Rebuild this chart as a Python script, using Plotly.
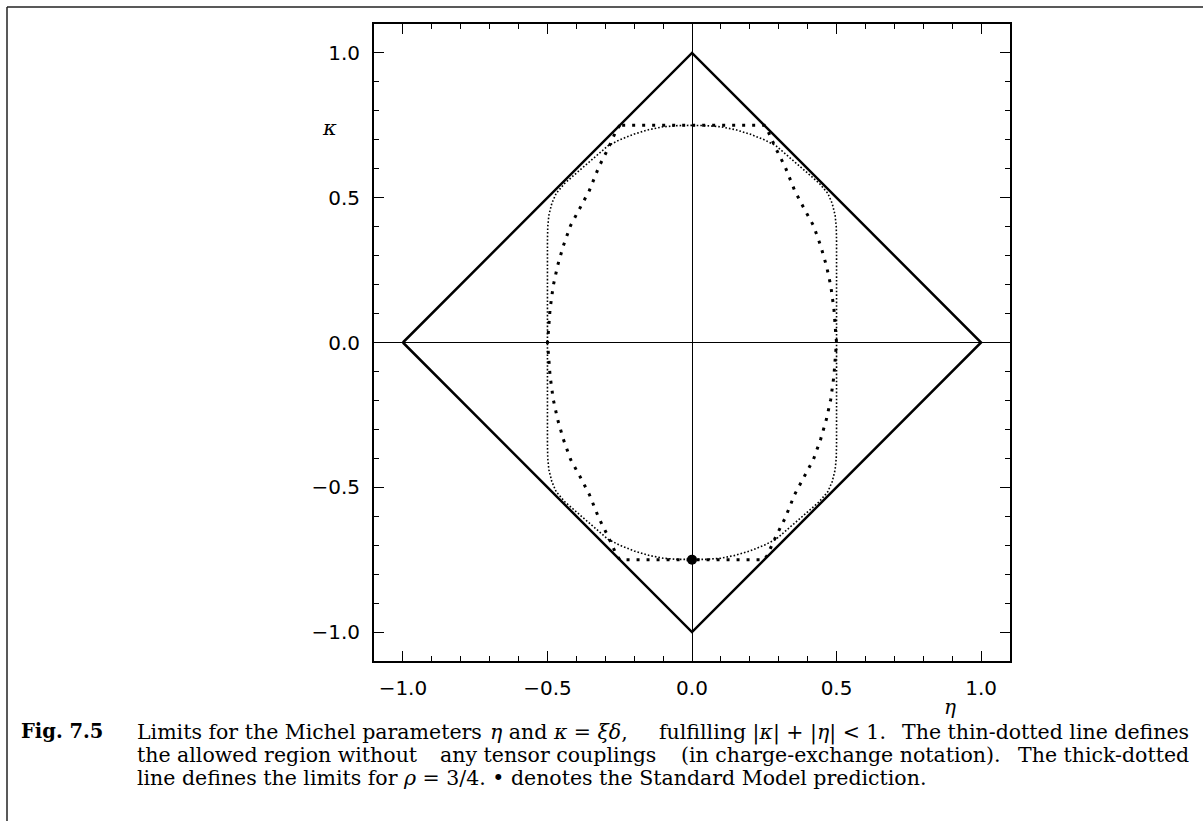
import plotly.graph_objects as go

# ---- data ----
diamond_eta = [-1.0, 0.0, 1.0, 0.0, -1.0]
diamond_kappa = [0.0, 1.0, 0.0, -1.0, 0.0]

# thin-dotted curve (no tensor couplings), traced around
thin_eta = [0.0, -0.05, -0.10, -0.15, -0.20, -0.25, -0.29, -0.32, -0.36, -0.40, -0.44, -0.47, -0.485, -0.495, -0.499, -0.50,
            -0.50, -0.499, -0.495, -0.485, -0.47, -0.44, -0.40, -0.36, -0.32, -0.29, -0.25, -0.20, -0.15, -0.10, -0.05, 0.0,
            0.05, 0.10, 0.15, 0.20, 0.25, 0.29, 0.32, 0.36, 0.40, 0.44, 0.47, 0.485, 0.495, 0.499, 0.50,
            0.50, 0.499, 0.495, 0.485, 0.47, 0.44, 0.40, 0.36, 0.32, 0.29, 0.25, 0.20, 0.15, 0.10, 0.05, 0.0]
thin_kappa = [0.75, 0.749, 0.745, 0.735, 0.72, 0.70, 0.68, 0.655, 0.62, 0.585, 0.55, 0.515, 0.48, 0.44, 0.40, 0.35,
              -0.35, -0.40, -0.44, -0.48, -0.515, -0.55, -0.585, -0.62, -0.655, -0.68, -0.70, -0.72, -0.735, -0.745, -0.749, -0.75,
              -0.749, -0.745, -0.735, -0.72, -0.70, -0.68, -0.655, -0.62, -0.585, -0.55, -0.515, -0.48, -0.44, -0.40, -0.35,
              0.35, 0.40, 0.44, 0.48, 0.515, 0.55, 0.585, 0.62, 0.655, 0.68, 0.70, 0.72, 0.735, 0.745, 0.749, 0.75]

# thick-dotted curve (rho = 3/4)
thick_eta = [-0.25, -0.261, -0.29, -0.322, -0.355, -0.388, -0.42, -0.445, -0.465, -0.48, -0.491, -0.497, -0.50,
             -0.497, -0.491, -0.48, -0.465, -0.445, -0.42, -0.388, -0.355, -0.322, -0.29, -0.261, -0.25,
             0.25, 0.261, 0.29, 0.322, 0.355, 0.388, 0.42, 0.445, 0.465, 0.48, 0.491, 0.497, 0.50,
             0.497, 0.491, 0.48, 0.465, 0.445, 0.42, 0.388, 0.355, 0.322, 0.29, 0.261, 0.25, -0.25]
thick_kappa = [0.75, 0.734, 0.67, 0.607, 0.525, 0.462, 0.404, 0.334, 0.265, 0.196, 0.115, 0.034, 0.0,
               -0.034, -0.115, -0.196, -0.265, -0.334, -0.404, -0.462, -0.525, -0.607, -0.67, -0.734, -0.75,
               -0.75, -0.734, -0.67, -0.607, -0.525, -0.462, -0.404, -0.334, -0.265, -0.196, -0.115, -0.034, 0.0,
               0.034, 0.115, 0.196, 0.265, 0.334, 0.404, 0.462, 0.525, 0.607, 0.67, 0.734, 0.75, 0.75]

sm_eta = [0.0]
sm_kappa = [-0.75]

tick_vals = [-1.0, -0.5, 0.0, 0.5, 1.0]
tick_text = ["\u22121.0", "\u22120.5", "0.0", "0.5", "1.0"]

# caption: justified lines split in chunks (text, left x in px; last chunk right-aligned)
caption_lines = [
    ["Limits for the Michel parameters",
     "<i>η</i> and <i>κ</i> = <i>ξδ</i>,",
     "fulfilling |<i>κ</i>| + |<i>η</i>| &lt; 1.",
     "The thin-dotted line defines"],
    ["the allowed region without",
     "any tensor couplings",
     "(in charge-exchange notation).",
     "The thick-dotted"],
    ["line defines the limits for <i>ρ</i> = 3/4. • denotes the Standard Model prediction."],
]
chunk_left = [
    [135, 488, 657],
    [135, 438, 679],
    [135],
]

# ---- layout geometry (pixels) ----
W, H = 1203, 821
L, R, T, B = 374, 1010, 24, 661


def px(x):
    return (x - L) / (R - L)


def py(y):
    return (B - y) / (B - T)


fig = go.Figure()
fig.add_trace(go.Scatter(x=thin_eta, y=thin_kappa, mode="lines",
                         line=dict(color="black", width=1.6, dash="1.6px,2px"), hoverinfo="skip"))
fig.add_trace(go.Scatter(x=thick_eta, y=thick_kappa, mode="lines",
                         line=dict(color="black", width=3, dash="3px,7px"), hoverinfo="skip"))
fig.add_trace(go.Scatter(x=diamond_eta, y=diamond_kappa, mode="lines",
                         line=dict(color="black", width=2.5), hoverinfo="skip"))
fig.add_trace(go.Scatter(x=sm_eta, y=sm_kappa, mode="markers",
                         marker=dict(color="black", size=10), hoverinfo="skip"))

axis_common = dict(
    range=[-1.1, 1.1], showgrid=False, zeroline=True, zerolinecolor="black", zerolinewidth=1,
    showline=True, linecolor="black", linewidth=2, mirror="ticks",
    ticks="inside", ticklen=10, tickwidth=1, tickcolor="black",
    tickvals=tick_vals, ticktext=tick_text,
    tickfont=dict(family="DejaVu Sans", size=20, color="black"),
    minor=dict(dtick=0.1, tick0=0, ticks="inside", ticklen=5, tickwidth=1, tickcolor="black", showgrid=False),
)
fig.update_xaxes(**axis_common, ticklabelstandoff=8)
fig.update_yaxes(**axis_common, ticklabelstandoff=8)

cap_font = dict(family="DejaVu Serif", size=20.5, color="black")
ann = []
ann.append(dict(text="<i>κ</i>", x=px(329), y=py(128), xref="paper", yref="paper", showarrow=False,
                font=dict(family="DejaVu Serif", size=21, color="black"), xanchor="center", yanchor="middle"))
ann.append(dict(text="<i>η</i>", x=px(950), y=py(707), xref="paper", yref="paper", showarrow=False,
                font=dict(family="DejaVu Serif", size=20, color="black"), xanchor="center", yanchor="middle"))
ann.append(dict(text="<b>Fig. 7.5</b>", x=px(19), y=py(731), xref="paper", yref="paper", showarrow=False,
                font=dict(family="DejaVu Serif", size=19.5, color="black"), xanchor="left", yanchor="middle"))
for i, chunks in enumerate(caption_lines):
    yy = py(732 + 23 * i)
    lefts = chunk_left[i]
    for j, text in enumerate(chunks):
        if j < len(lefts):
            ann.append(dict(text=text, x=px(lefts[j]), y=yy, xref="paper", yref="paper", showarrow=False,
                            font=cap_font, xanchor="left", yanchor="middle"))
        else:
            ann.append(dict(text=text, x=px(1191), y=yy, xref="paper", yref="paper", showarrow=False,
                            font=cap_font, xanchor="right", yanchor="middle"))

shapes = [
    dict(type="line", xref="paper", yref="paper", x0=px(7), x1=px(1203), y0=py(7), y1=py(7),
         line=dict(color="#222", width=1.5)),
    dict(type="line", xref="paper", yref="paper", x0=px(7), x1=px(7), y0=py(7), y1=py(821),
         line=dict(color="#222", width=1.5)),
]

fig.update_layout(
    width=W, height=H, showlegend=False,
    margin=dict(l=L, r=W - R, t=T, b=H - B),
    paper_bgcolor="white", plot_bgcolor="white",
    annotations=ann, shapes=shapes,
)

fig.write_html("out.html", config={"displayModeBar": False},
               post_script="document.body.style.margin='0';document.body.style.overflow='hidden';")
